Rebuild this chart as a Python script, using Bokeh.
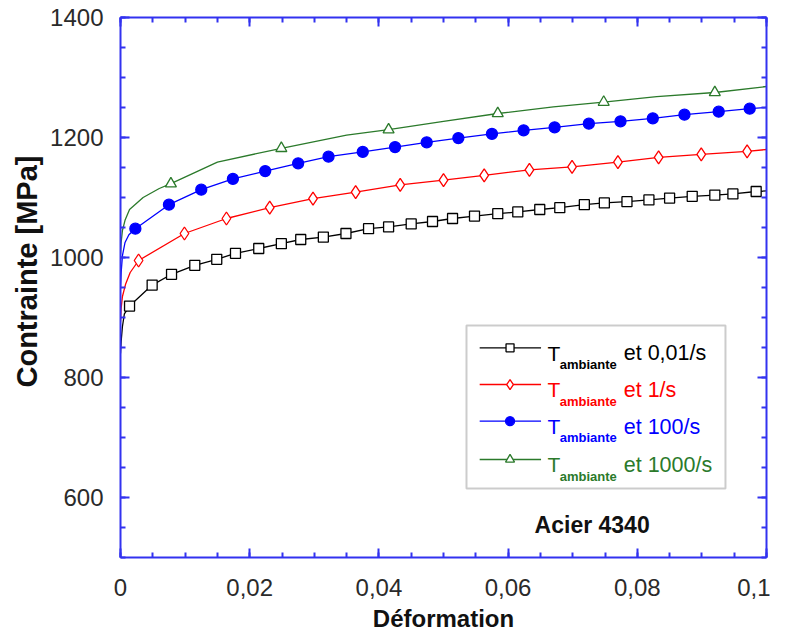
from bokeh.plotting import figure
from bokeh.models import (Range1d, LinearAxis, FixedTicker, CustomJSTickFormatter,
                          BoxAnnotation, Label, Title)
from bokeh.embed import file_html
from bokeh.resources import INLINE

# ---------------- data ----------------
x_ticks = [0, 0.02, 0.04, 0.06, 0.08, 0.1]
x_minor = [0.005 * i for i in range(21)]
y_ticks = [600, 800, 1000, 1200, 1400]
y_minor = [500 + 50 * i for i in range(19)]

# 0,01/s  (black, open squares)
start_001_x = [0.0, 0.0001, 0.0003, 0.0006]
start_001_y = [840, 860, 885, 906]
mk_001_x = [0.0014, 0.0049, 0.0079, 0.0115, 0.0149, 0.0178, 0.0214, 0.0249, 0.0279,
            0.0314, 0.0349, 0.0384, 0.0415, 0.0450, 0.0483, 0.0514, 0.0548, 0.0584,
            0.0615, 0.0649, 0.0680, 0.0718, 0.0749, 0.0784, 0.0818, 0.0850, 0.0885,
            0.0920, 0.0948, 0.0984]
mk_001_y = [919, 954, 972, 987, 997, 1007, 1015, 1023, 1030,
            1034, 1040, 1048, 1051, 1056, 1060, 1065, 1069, 1073,
            1076, 1080, 1083, 1088, 1091, 1093, 1096, 1099, 1102,
            1104, 1106, 1110]
end_001 = (0.1, 1111)

# 1/s  (red, open diamonds)
start_1_x = [0.0, 0.0001, 0.0003, 0.0008, 0.0015]
start_1_y = [893, 915, 935, 956, 975]
mk_1_x = [0.0028, 0.0099, 0.0164, 0.0231, 0.0298, 0.0364, 0.0433, 0.0500,
          0.0563, 0.0633, 0.0699, 0.0770, 0.0833, 0.0899, 0.0970]
mk_1_y = [995, 1040, 1065, 1083, 1098, 1109, 1121, 1129,
          1137, 1146, 1151, 1159, 1167, 1172, 1177]
end_1 = (0.1, 1180)

# 100/s  (blue, filled circles)
start_100_x = [0.0, 0.0001, 0.0003, 0.0007, 0.0013]
start_100_y = [950, 975, 1003, 1025, 1038]
mk_100_x = [0.0023, 0.0075, 0.0125, 0.0174, 0.0224, 0.0275, 0.0322, 0.0375,
            0.0425, 0.0474, 0.0523, 0.0575, 0.0624, 0.0672, 0.0725, 0.0774,
            0.0824, 0.0873, 0.0926, 0.0974]
mk_100_y = [1048, 1088, 1113, 1131, 1144, 1157, 1168, 1176,
            1184, 1192, 1199, 1206, 1212, 1217, 1223, 1227,
            1232, 1238, 1243, 1248]
end_100 = (0.1, 1250)

# 1000/s  (green, open triangles)
curve_1000_x = [0.0, 0.0001, 0.0003, 0.0007, 0.0014, 0.0035, 0.0060, 0.0078, 0.0150,
                0.0249, 0.0350, 0.0415, 0.0500, 0.0584, 0.0670, 0.0748, 0.0830,
                0.0920, 0.1]
curve_1000_y = [1005, 1025, 1045, 1062, 1080, 1100, 1115, 1123, 1159,
                1182, 1204, 1213, 1227, 1240, 1251, 1259, 1268,
                1275, 1285]
mk_1000_x = [0.0078, 0.0249, 0.0415, 0.0584, 0.0748, 0.0920]
mk_1000_y = [1123, 1182, 1213, 1240, 1259, 1275]

names = ["et 0,01/s", "et 1/s", "et 100/s", "et 1000/s"]
colors = ["#000000", "#ff0000", "#0000ff", "#2b7a2b"]

# ---------------- figure ----------------
FONT = "Liberation Sans"
AX = "#3232f0"

p = figure(width=770, height=634, output_backend="svg", toolbar_location=None,
           x_range=Range1d(0, 0.1), y_range=Range1d(500, 1400),
           min_border_left=120, min_border_right=4, min_border_top=17,
           min_border_bottom=77, x_axis_label="Déformation")
p.background_fill_color = "white"
p.border_fill_color = "white"
p.outline_line_color = None
p.xgrid.visible = False
p.ygrid.visible = False

fmt = CustomJSTickFormatter(code="""
    if (Math.abs(tick) < 1e-9) return "0";
    const s = (Math.round(tick * 100) / 100).toString();
    return s.replace('.', ',');
""")
blank = CustomJSTickFormatter(code="return '';")

def style(ax, label_size="24px"):
    ax.axis_line_color = AX
    ax.axis_line_width = 2
    ax.major_tick_line_color = AX
    ax.minor_tick_line_color = AX
    ax.major_tick_line_width = 2
    ax.minor_tick_line_width = 2
    ax.major_tick_in = 9
    ax.major_tick_out = 0
    ax.minor_tick_in = 5
    ax.minor_tick_out = 0
    ax.major_label_text_font = FONT
    ax.major_label_text_font_size = label_size
    ax.major_label_text_color = "#2a2a2a"
    ax.axis_label_text_font = FONT
    ax.axis_label_text_font_style = "bold"
    ax.axis_label_text_color = "#111111"

xt = FixedTicker(ticks=x_ticks, minor_ticks=x_minor)
yt = FixedTicker(ticks=y_ticks, minor_ticks=y_minor)

xa = p.xaxis[0]
xa.ticker = xt
xa.formatter = fmt
style(xa)
xa.major_label_standoff = 21
xa.axis_label_text_font_size = "24px"
xa.axis_label_standoff = 6

ya = p.yaxis[0]
ya.ticker = yt
style(ya)
ya.major_label_standoff = 17

top = LinearAxis(ticker=xt, formatter=blank)
style(top)
top.major_label_standoff = 0
p.add_layout(top, "above")
right = LinearAxis(ticker=yt, formatter=blank)
style(right)
right.major_label_standoff = 0
p.add_layout(right, "right")

# y-axis title, placed like the original (not centred on the frame)
p.add_layout(Title(text="Contrainte [MPa]", align="left", offset=170,
                   text_font=FONT, text_font_size="29px", text_font_style="bold",
                   text_color="#111111", standoff=10), "left")

# ---------------- curves ----------------
series = [
    (start_001_x + mk_001_x + [end_001[0]], start_001_y + mk_001_y + [end_001[1]], mk_001_x, mk_001_y),
    (start_1_x + mk_1_x + [end_1[0]], start_1_y + mk_1_y + [end_1[1]], mk_1_x, mk_1_y),
    (start_100_x + mk_100_x + [end_100[0]], start_100_y + mk_100_y + [end_100[1]], mk_100_x, mk_100_y),
    (curve_1000_x, curve_1000_y, mk_1000_x, mk_1000_y),
]
markers = [("square", 10, False), ("diamond", 13, False), ("circle", 11, True), ("triangle", 11, False)]

for (cx, cy, mx, my), col, (mk, sz, filled) in zip(series, colors, markers):
    p.line(cx, cy, line_color=col, line_width=1.3)
    p.scatter(mx, my, marker=mk, size=sz, line_color=col, line_width=1.3,
              fill_color=col if filled else "white")

# ---------------- legend (drawn by hand for the subscript) ----------------
box = BoxAnnotation(left=0.05356, right=0.09365, top=886.7, bottom=615,
                    fill_color="white", fill_alpha=1.0, line_color="#555555",
                    line_width=2, level="underlay")
p.add_layout(box)

row_y = [849.5, 788.3, 727.2, 663.3]
leg_x0, leg_x1, leg_xm = 0.0556, 0.0651, 0.0603
leg_sizes = [8, 10, 9, 9]
for ry, col, (mk, sz, filled), lsz, name in zip(row_y, colors, markers, leg_sizes, names):
    p.line([leg_x0, leg_x1], [ry, ry], line_color=col, line_width=1.3)
    p.scatter([leg_xm], [ry], marker=mk, size=lsz, line_color=col, line_width=1.3,
              fill_color=col if filled else "white")
    p.add_layout(Label(x=0.0661, y=ry - 9, text="T", text_font=FONT,
                       text_font_size="21px", text_color=col,
                       text_baseline="alphabetic"))
    p.add_layout(Label(x=0.0680, y=ry - 28, text="ambiante", text_font=FONT,
                       text_font_size="13px", text_font_style="bold", text_color=col,
                       text_baseline="alphabetic"))
    p.add_layout(Label(x=0.0779, y=ry - 9, text=name, text_font=FONT,
                       text_font_size="21.5px", text_color=col,
                       text_baseline="alphabetic"))

p.add_layout(Label(x=0.0641, y=555, text="Acier 4340", text_font=FONT,
                   text_font_size="23px", text_font_style="bold", text_color="#111111",
                   text_baseline="alphabetic"))

open("out.html", "w").write(file_html(p, INLINE))
